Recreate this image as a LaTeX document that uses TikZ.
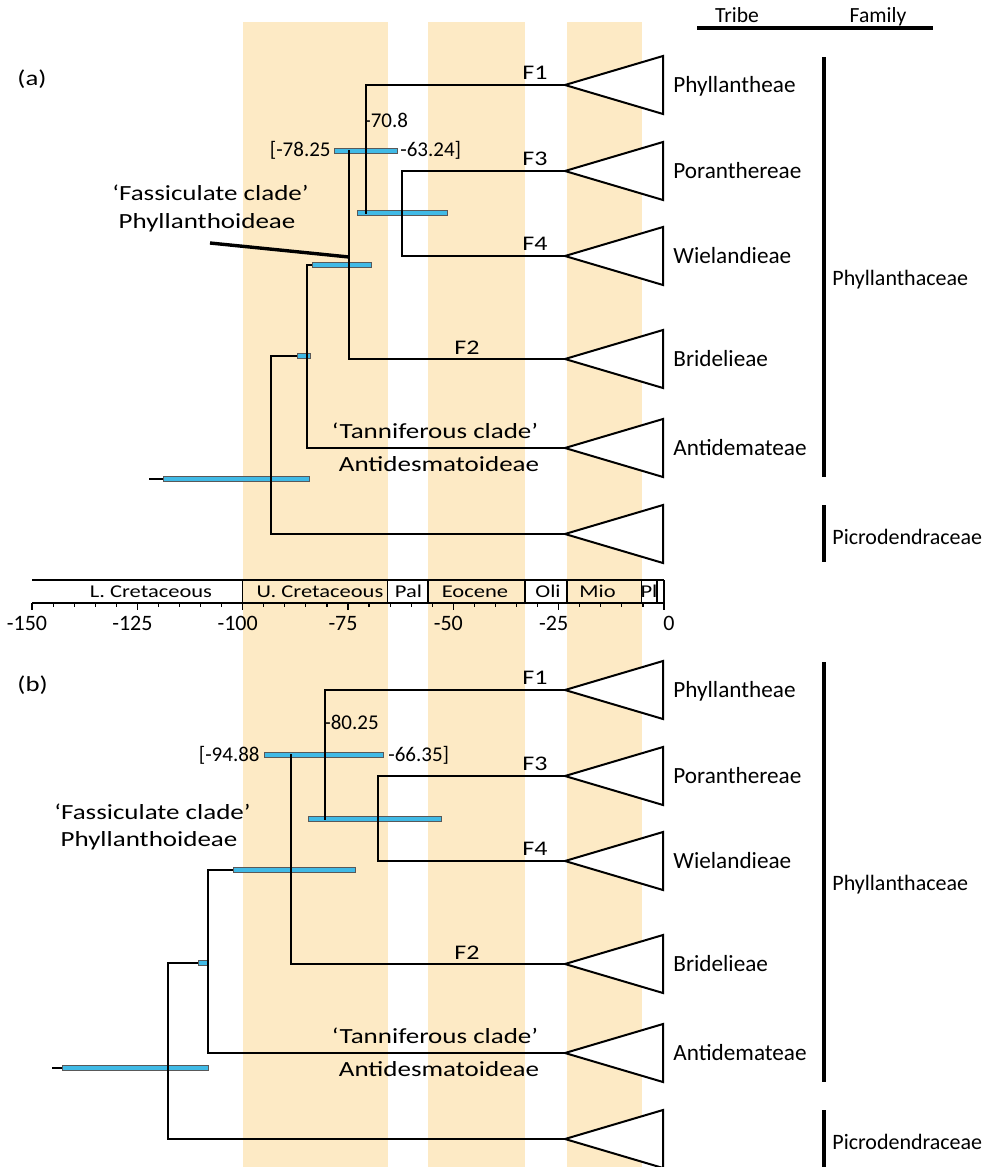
\documentclass[tikz,border=0pt]{standalone}
\usepackage{fontspec}
\setmainfont{Carlito}
\newfontfamily\widefont[FakeStretch=1.25]{Carlito}
\definecolor{bandcol}{RGB}{253,234,197}
\definecolor{hpdcol}{RGB}{64,186,230}
\tikzset{
  branch/.style={draw,line width=1pt,line cap=rect},
  hpd/.style={draw=black!65,line width=0.45pt,fill=hpdcol},
  clade/.style={draw,line width=1pt,fill=white},
  famline/.style={draw,line width=1.8pt},
  scaleline/.style={draw,line width=0.7pt},
  tribe/.style={anchor=base west,inner sep=0pt,font=\fontsize{11.6}{14}\selectfont},
  family/.style={anchor=base west,inner sep=0pt,font=\fontsize{11}{13}\selectfont},
  header/.style={anchor=base,inner sep=0pt,font=\fontsize{10.8}{13}\selectfont},
  fnum/.style={anchor=base,inner sep=0pt,font=\widefont\fontsize{10.4}{12}\selectfont},
  cladename/.style={anchor=base,inner sep=0pt,font=\widefont\fontsize{10.8}{13}\selectfont},
  agenum/.style={inner sep=0pt,font=\fontsize{10.5}{12}\selectfont},
  period/.style={anchor=base,inner sep=0pt,font=\widefont\fontsize{9}{11}\selectfont},
  axisnum/.style={anchor=base,inner sep=0pt,font=\fontsize{11}{13}\selectfont},
  panel/.style={anchor=west,inner sep=0pt,font=\widefont\fontsize{10.7}{13}\selectfont},
}
\begin{document}
\begin{tikzpicture}[x=0.5pt,y=-0.5pt]
\useasboundingbox (0,0) rectangle (991,1167);
\fill[bandcol] (242.5,22) rectangle (387.5,1167);
\fill[bandcol] (428,22) rectangle (525,1167);
\fill[bandcol] (567,22) rectangle (641.5,1167);

\node[header] (tribehead) at (737,22.7) {Tribe};
\node[header] (famhead) at (878,22.7) {Family};
\path[draw,line width=2pt] (697,28) -- (933,28);

\foreach \dy/\p in {0/a,605/b}{
  \coordinate (tF1\p) at (565,85+\dy);
  \coordinate (tF3\p) at (565,171+\dy);
  \coordinate (tF4\p) at (565,256+\dy);
  \coordinate (tF2\p) at (565,359+\dy);
  \coordinate (tAn\p) at (565,448+\dy);
  \coordinate (tPi\p) at (565,534+\dy);
  \foreach \t in {F1,F3,F4,F2,An,Pi}
    \path[clade] (t\t\p) -- ++(98,-29) -- ++(0,58) -- cycle;
  \node[tribe] (phyl\p) at (673,92.5+\dy) {Phyllantheae};
  \node[tribe] (pora\p) at (673,178.5+\dy) {Poranthereae};
  \node[tribe] (wiel\p) at (673,263.5+\dy) {Wielandieae};
  \node[tribe] (brid\p) at (673,366.5+\dy) {Bridelieae};
  \node[tribe] (anti\p) at (673,455.5+\dy) {Antidemateae};
  \node[fnum] (fone\p) at (535,79+\dy) {F1};
  \node[fnum] (fthree\p) at (535,165+\dy) {F3};
  \node[fnum] (ffour\p) at (535,250+\dy) {F4};
  \node[fnum] (ftwo\p) at (467,354+\dy) {F2};
  \node[cladename] (tann\p) at (435,438+\dy) {‘Tanniferous clade’};
  \node[cladename] (antid\p) at (439,471.5+\dy) {Antidesmatoideae};
  \path[famline] (824,57+\dy) -- (824,477+\dy);
  \path[famline] (824,505+\dy) -- (824,562+\dy);
  \node[family] (phyfam\p) at (832,285+\dy) {Phyllanthaceae};
  \node[family] (picfam\p) at (832,544+\dy) {Picrodendraceae};
}

\node[panel] (panela) at (17,79) {(a)};
\coordinate (n1a) at (366,151);
\coordinate (n34a) at (402,213);
\coordinate (n2a) at (349,265);
\coordinate (n3a) at (307,356);
\coordinate (ra) at (271,479);
\path[branch] (n1a |- tF1a) -- (tF1a);
\path[branch] (n1a |- n34a) -- (n34a);
\path[branch] (n34a |- tF3a) -- (tF3a);
\path[branch] (n34a |- tF4a) -- (tF4a);
\path[branch] (n2a |- n1a) -- (n1a);
\path[branch] (n2a |- tF2a) -- (tF2a);
\path[branch] (n3a |- n2a) -- (n2a);
\path[branch] (n3a |- tAna) -- (tAna);
\path[branch] (ra |- n3a) -- (n3a);
\path[branch] (ra |- tPia) -- (tPia);
\path[draw,line width=0.8pt] (149,479) -- (163,479);
\path[hpd] (334,148.5) rectangle (397,153.5);
\path[hpd] (357,210.5) rectangle (447,215.5);
\path[hpd] (312,262.5) rectangle (371,267.5);
\path[hpd] (297,353.5) rectangle (310,358.5);
\path[hpd] (163,476.5) rectangle (309,481.5);
\path[branch] (n1a |- tF1a) -- (n1a |- n34a);
\path[branch] (n34a |- tF3a) -- (n34a |- tF4a);
\path[branch] (n2a |- n1a) -- (n2a |- tF2a);
\path[branch] (n3a |- n2a) -- (n3a |- tAna);
\path[branch] (ra |- n3a) -- (ra |- tPia);
\node[agenum,anchor=base east] (loa) at (331,156) {[-78.25};
\node[agenum,anchor=base west] (hia) at (400,156) {-63.24]};
\node[agenum,anchor=base west] (meda) at (364,127) {-70.8};
\node[cladename] (fasca) at (210.5,200) {‘Fassiculate clade’};
\node[cladename] (phyla) at (207,228) {Phyllanthoideae};
\coordinate (pstart) at (210,243);
\coordinate (pend) at (349,257);
\path[draw,line width=1.7pt] (pstart) -- (pend);

\path[scaleline] (32,580) -- (664,580);
\path[scaleline] (32,603) -- (664,603);
\foreach \x in {242.5,387.5,428,525,567,641.5,657,664}
  \path[scaleline] (\x,580) -- (\x,603);
\foreach \t in {-150,-145,...,0}
  \path[draw,line width=0.6pt] ({664+\t*4.213},603) -- ++(0,3.5);
\foreach \t in {-150,-125,...,0}
  \path[draw,line width=0.6pt] ({664+\t*4.213},603) -- ++(0,7);
\foreach \t in {-150,-125,...,-25}
  \node[axisnum] (ax\t) at ({659+\t*4.213},630) {\t};
\node[axisnum] (axzero) at (669,630) {0};
\node[period] (lcret) at (151,597.7) {L. Cretaceous};
\node[period] (ucret) at (320,597.7) {U. Cretaceous};
\node[period] (pal) at (408.5,597.7) {Pal};
\node[period] (eoc) at (475,597.7) {Eocene};
\node[period] (oli) at (548,597.7) {Oli};
\node[period] (mio) at (597.5,597.7) {Mio};
\node[period] (pli) at (649,597.7) {Pl};

\node[panel] (panelb) at (17,685) {(b)};
\coordinate (n1b) at (325,755);
\coordinate (n34b) at (378,819);
\coordinate (n2b) at (291,870);
\coordinate (n3b) at (208,963);
\coordinate (rb) at (168,1068);
\path[branch] (n1b |- tF1b) -- (tF1b);
\path[branch] (n1b |- n34b) -- (n34b);
\path[branch] (n34b |- tF3b) -- (tF3b);
\path[branch] (n34b |- tF4b) -- (tF4b);
\path[branch] (n2b |- n1b) -- (n1b);
\path[branch] (n2b |- tF2b) -- (tF2b);
\path[branch] (n3b |- n2b) -- (n2b);
\path[branch] (n3b |- tAnb) -- (tAnb);
\path[branch] (rb |- n3b) -- (n3b);
\path[branch] (rb |- tPib) -- (tPib);
\path[draw,line width=0.8pt] (52,1068) -- (62,1068);
\path[hpd] (264,752.5) rectangle (383,757.5);
\path[hpd] (308,816.5) rectangle (441,821.5);
\path[hpd] (233,867.5) rectangle (355,872.5);
\path[hpd] (198,960.5) rectangle (208,965.5);
\path[hpd] (62,1065.5) rectangle (208,1070.5);
\path[branch] (n1b |- tF1b) -- (n1b |- n34b);
\path[branch] (n34b |- tF3b) -- (n34b |- tF4b);
\path[branch] (n2b |- n1b) -- (n2b |- tF2b);
\path[branch] (n3b |- n2b) -- (n3b |- tAnb);
\path[branch] (rb |- n3b) -- (rb |- tPib);
\node[agenum,anchor=base east] (lob) at (260,761) {[-94.88};
\node[agenum,anchor=base west] (hib) at (388,761) {-66.35]};
\node[agenum,anchor=base west] (medb) at (324,729) {-80.25};
\node[cladename] (fascb) at (152.5,819) {‘Fassiculate clade’};
\node[cladename] (phylb) at (149,846) {Phyllanthoideae};
\end{tikzpicture}
\end{document}
